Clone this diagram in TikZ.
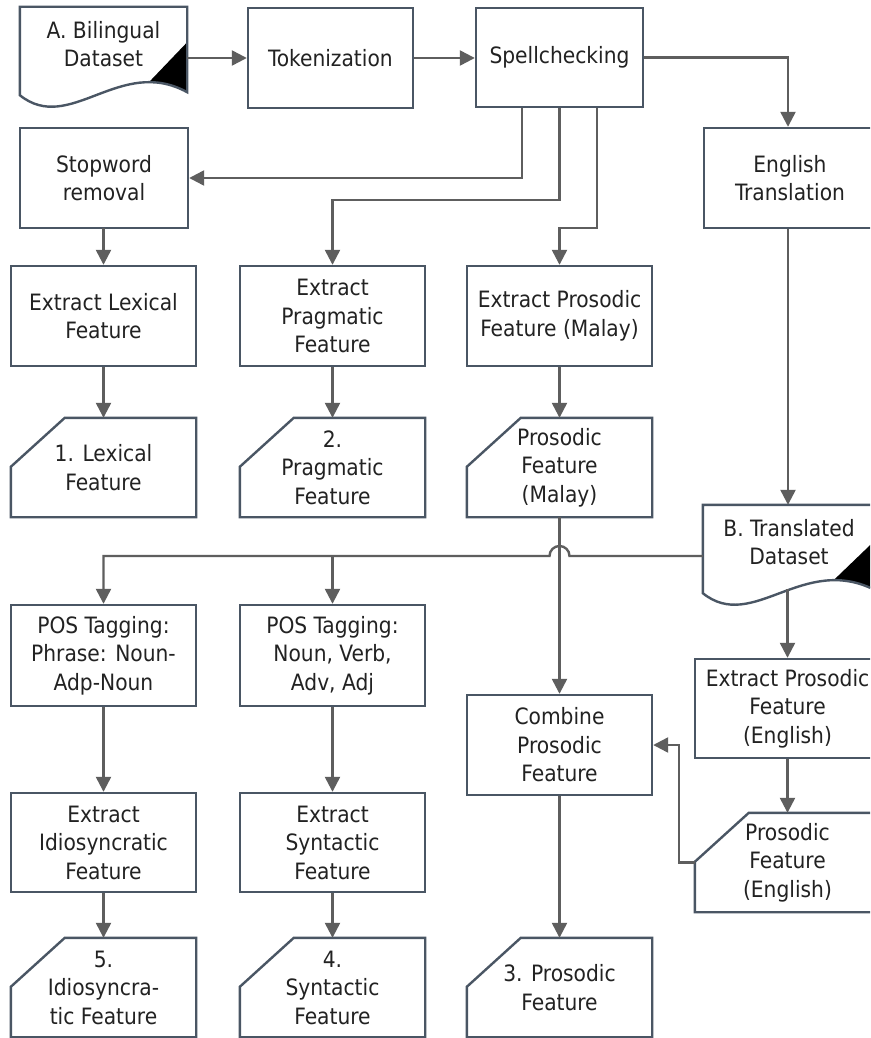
\documentclass[tikz,border=0pt]{standalone}
\usepackage{fontspec}
\setmainfont{DejaVu Sans Condensed}
\usetikzlibrary{arrows.meta,calc}

\definecolor{edgec}{HTML}{4A5664}
\definecolor{wirec}{HTML}{5E5E5E}
\definecolor{txtc}{HTML}{222222}

\tikzset{
  base/.style={align=center, text=txtc, inner sep=0pt,
    font=\fontsize{22.5}{28.5}\selectfont},
  procbox/.style={base, draw=edgec, line width=2.4pt, fill=white,
    minimum width=185pt, minimum height=100pt},
  narrowbox/.style={procbox, minimum width=167pt},
  cardbox/.style={base, minimum width=185pt, minimum height=99pt},
  docbox/.style={base, minimum width=167pt, minimum height=74pt},
  outline/.style={draw=edgec, line width=2.4pt, line join=miter},
  wire/.style={draw=wirec, line width=2.4pt},
  arr/.style={wire, -{Triangle[length=15pt,width=15pt]}}
}

% punched-card outline with the top-left corner cut off
\newcommand\cardoutline[1]{([xshift=54pt]#1.north west) -- (#1.north east) -- (#1.south east) -- (#1.south west) -- ([yshift=-49pt]#1.north west) -- cycle}
% document outline with a wavy bottom edge
\newcommand\docoutline[1]{(#1.north west) -- ([yshift=-14pt]#1.south west) .. controls ([xshift=50pt,yshift=-54pt]#1.south west) and ([xshift=100pt,yshift=26pt]#1.south west) .. ([yshift=-11pt]#1.south east) -- (#1.north east) -- cycle}
\newcommand\docshape[1]{%
  \begin{scope}
    \clip \docoutline{#1};
    \fill[black] ([yshift=39pt]#1.south east) -- ([xshift=110pt,yshift=-21pt]#1.south west) -- ([yshift=-60pt]#1.south east) -- cycle;
  \end{scope}
  \draw[outline] \docoutline{#1};}
\newcommand\cardshape[1]{\draw[outline] \cardoutline{#1};}

\begin{document}
\begin{tikzpicture}[x=1pt,y=-1pt]
\useasboundingbox (0,0) rectangle (870,1038);
\clip (0,0) rectangle (870,1038);
\fill[white] (0,0) rectangle (870,1038);

% ---- nodes ----
\node[docbox] (A) at (103.5,44) {A. Bilingual\\Dataset};
\node[narrowbox, minimum width=165pt] (tok) at (330.5,58) {Tokenization};
\node[narrowbox, minimum height=99pt] (spell) at (559.5,57.5) {Spellchecking};

\node[narrowbox, minimum width=168pt] (stop) at (104,178) {Stopword\\removal};
\node[narrowbox, minimum width=172pt] (engtr) at (790,178) {English\\Translation};

\node[procbox] (lex) at (103.5,316) {Extract Lexical\\Feature};
\node[procbox] (prag) at (332.5,316) {Extract\\Pragmatic\\Feature};
\node[procbox] (prosm) at (559.5,316) {Extract Prosodic\\Feature (Malay)};

\node[cardbox] (c1) at (103.5,467.5) {1. Lexical\\Feature};
\node[cardbox] (c2) at (332.5,467.5) {2.\\Pragmatic\\Feature};
\node[cardbox] (cm) at (559.5,467.5) {Prosodic\\Feature\\(Malay)};

\node[docbox, minimum width=172pt] (B) at (789,542) {B. Translated\\Dataset};

\node[procbox, minimum height=101pt] (pos1) at (103.5,655.5) {POS Tagging:\\Phrase: Noun-\\Adp-Noun};
\node[procbox, minimum height=101pt] (pos2) at (332.5,655.5) {POS Tagging:\\Noun, Verb,\\Adv, Adj};
\node[procbox, minimum height=99pt] (prose) at (787.5,708.5) {Extract Prosodic\\Feature\\(English)};
\node[procbox] (comb) at (559.5,745) {Combine\\Prosodic\\Feature};
\node[cardbox] (ce) at (787.5,862.5) {Prosodic\\Feature\\(English)};

\node[procbox, minimum height=99pt] (idio) at (103.5,842.5) {Extract\\Idiosyncratic\\Feature};
\node[procbox, minimum height=99pt] (syn) at (332.5,842.5) {Extract\\Syntactic\\Feature};

\node[cardbox] (c5) at (103.5,987.5) {5.\\Idiosyncra-\\tic Feature};
\node[cardbox] (c4) at (332.5,987.5) {4.\\Syntactic\\Feature};
\node[cardbox] (c3) at (559.5,987.5) {3. Prosodic\\Feature};

% ---- outlines of the non-rectangular shapes ----
\docshape{A}
\docshape{B}
\cardshape{c1}
\cardshape{c2}
\cardshape{cm}
\cardshape{ce}
\cardshape{c5}
\cardshape{c4}
\cardshape{c3}

% ---- connectors ----
\draw[arr] (A.east |- tok.west) -- (tok.west);
\draw[arr] (tok.east) -- (spell.west |- tok.east);
\draw[arr] (spell.east) -| ([xshift=-2pt]engtr.north);

\draw[arr] ([xshift=-37.5pt]spell.south) |- (stop.east);
\draw[arr] (spell.south) -- ++(0,91.5) -| (prag.north);
\draw[arr] ([xshift=37.5pt]spell.south) -- ++(0,119.5) -| (prosm.north);

\draw[arr] (stop.south) -- (stop.south -| lex.north) -- (lex.north);
\draw[arr] (lex.south) -- (c1.north);
\draw[arr] (prag.south) -- (c2.north);
\draw[arr] (prosm.south) -- (cm.north);

\draw[arr] ([xshift=-2pt]engtr.south) -- ([xshift=-2pt]engtr.south |- B.north);

\draw[arr] (cm.south) -- (comb.north);
\coordinate (bh) at ([yshift=-14pt]B.west);
\draw[arr] (bh) -- ([xshift=10pt]cm.south |- bh)
  arc[start angle=0, end angle=180, radius=10pt]
  -- (pos1.north |- bh) -- (pos1.north);
\draw[arr] (pos2.north |- bh) -- (pos2.north);

\draw[arr] ([yshift=-10pt]prose.north |- B.south) -- (prose.north);
\draw[arr] (prose.south) -- (ce.north);
\draw[arr] (ce.west) -- ++(-16,0) |- (comb.east);

\draw[arr] (pos1.south) -- (idio.north);
\draw[arr] (pos2.south) -- (syn.north);
\draw[arr] (idio.south) -- (c5.north);
\draw[arr] (syn.south) -- (c4.north);
\draw[arr] (comb.south) -- (c3.north);
\end{tikzpicture}
\end{document}
